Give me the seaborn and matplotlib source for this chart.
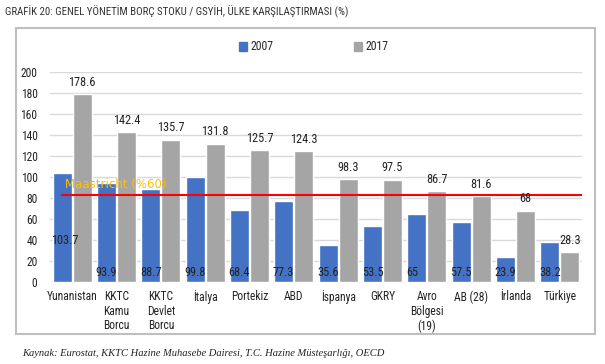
import matplotlib
matplotlib.use("Agg")
import matplotlib.pyplot as plt
import matplotlib.patches as mpatches
from matplotlib import font_manager
import pandas as pd
import seaborn as sns

# --- data --------------------------------------------------------------
countries = [
    "Yunanistan", "KKTC\nKamu\nBorcu", "KKTC\nDevlet\nBorcu", "İtalya",
    "Portekiz", "ABD", "İspanya", "GKRY", "Avro\nBölgesi\n(19)",
    "AB (28)", "İrlanda", "Türkiye",
]
debt_2007 = [103.7, 93.9, 88.7, 99.8, 68.4, 77.3, 35.6, 53.5, 65, 57.5, 23.9, 38.2]
debt_2017 = [178.6, 142.4, 135.7, 131.8, 125.7, 124.3, 98.3, 97.5, 86.7, 81.6, 68, 28.3]
labels_2007 = ["103.7", "93.9", "88.7", "99.8", "68.4", "77.3", "35.6", "53.5", "65", "57.5", "23.9", "38.2"]
labels_2017 = ["178.6", "142.4", "135.7", "131.8", "125.7", "124.3", "98.3", "97.5", "86.7", "81.6", "68", "28.3"]
years = ["2007", "2017"]
maastricht_level = 83
y_ticks = [0, 20, 40, 60, 80, 100, 120, 140, 160, 180, 200]

title = "GRAFİK 20: GENEL YÖNETİM BORÇ STOKU / GSYİH, ÜLKE KARŞILAŞTIRMASI (%)"
source = "Kaynak: Eurostat, KKTC Hazine Muhasebe Dairesi, T.C. Hazine Müsteşarlığı, OECD"

BLUE = "#4472C4"
GREY = "#A5A5A5"
TEXT = "#222222"

sns.set_theme(style="white")
installed = {f.name for f in font_manager.fontManager.ttflist}
narrow = [n for n in ["Liberation Sans Narrow", "Roboto Condensed", "DejaVu Sans Condensed",
                      "Open Sans Condensed", "Noto Sans Condensed"] if n in installed]
plt.rcParams["font.family"] = narrow + ["DejaVu Sans"]
plt.rcParams["font.stretch"] = "condensed"

df = pd.DataFrame({
    "country": countries * 2,
    "year": [years[0]] * len(countries) + [years[1]] * len(countries),
    "value": debt_2007 + debt_2017,
})

fig = plt.figure(figsize=(6.05, 3.64), dpi=100)
W, H = 605, 364

# outer frame around the chart block
frame = mpatches.Rectangle((16 / W, 1 - 334 / H), (595 - 16) / W, (334 - 28) / H,
                           transform=fig.transFigure, fill=False,
                           edgecolor="#BFBFBF", linewidth=1.5)
fig.patches.append(frame)

ax = fig.add_axes([50 / W, 1 - 282 / H, (582 - 50) / W, (282 - 72) / H])
sns.barplot(data=df, x="country", y="value", hue="year", order=countries,
            hue_order=years, palette=[BLUE, GREY], width=0.9, gap=0.04,
            saturation=1, ax=ax, legend=False)

ax.set_ylim(0, 200)
ax.set_yticks(y_ticks)
ax.yaxis.grid(True, color="#D9D9D9", linewidth=1)
ax.set_axisbelow(True)
for s in ax.spines.values():
    s.set_visible(False)
ax.tick_params(axis="both", length=0, labelsize=8.3, colors=TEXT)
ax.tick_params(axis="y", pad=9)
ax.set_xticks(range(len(countries)))
ax.set_xticklabels(countries, fontsize=8.3, linespacing=1.15)
ax.tick_params(axis="x", pad=6)
ax.set_xlabel("")
ax.set_ylabel("")

bars_07 = ax.containers[0]
bars_17 = ax.containers[1]
for i, (b, txt) in enumerate(zip(bars_07, labels_2007)):
    # Yunanistan's label sits higher up inside the bar
    y = 33 if i == 0 else 3
    ax.text(b.get_x() - 0.03, y, txt, ha="left", va="bottom", fontsize=8.8, color=TEXT)
for b, txt in zip(bars_17, labels_2017):
    ax.text(b.get_x() + b.get_width() / 2, b.get_height() + 5, txt,
            ha="center", va="bottom", fontsize=8.8, color=TEXT, clip_on=False)

# Maastricht reference line
ax.axhline(maastricht_level, color="#FF0000", linewidth=1.5, xmin=0.022, xmax=1.0)
ax.text(-0.17, maastricht_level + 4, "Maastricht (%60)", color="#FFC000",
        fontsize=8.5, ha="left", va="bottom", family=["DejaVu Sans"], stretch="normal")

# legend placed above the plot
handles = [mpatches.Patch(color=BLUE, label=years[0]), mpatches.Patch(color=GREY, label=years[1])]
fig.legend(handles=handles, loc="center", bbox_to_anchor=(314 / W, 1 - 47 / H), ncol=2,
           frameon=False, fontsize=8.5, handlelength=0.7, handleheight=0.7,
           handletextpad=0.3, columnspacing=6.8)

fig.text(5 / W, 1 - 12 / H, title, fontsize=7.8, ha="left", va="center", color="#333333")
fig.text(22 / W, 1 - 354 / H, source, fontsize=7.6, ha="left", va="center",
         style="italic", family=["Liberation Serif", "DejaVu Serif"], stretch="normal",
         color=TEXT)

fig.savefig("out.png", dpi=100)
